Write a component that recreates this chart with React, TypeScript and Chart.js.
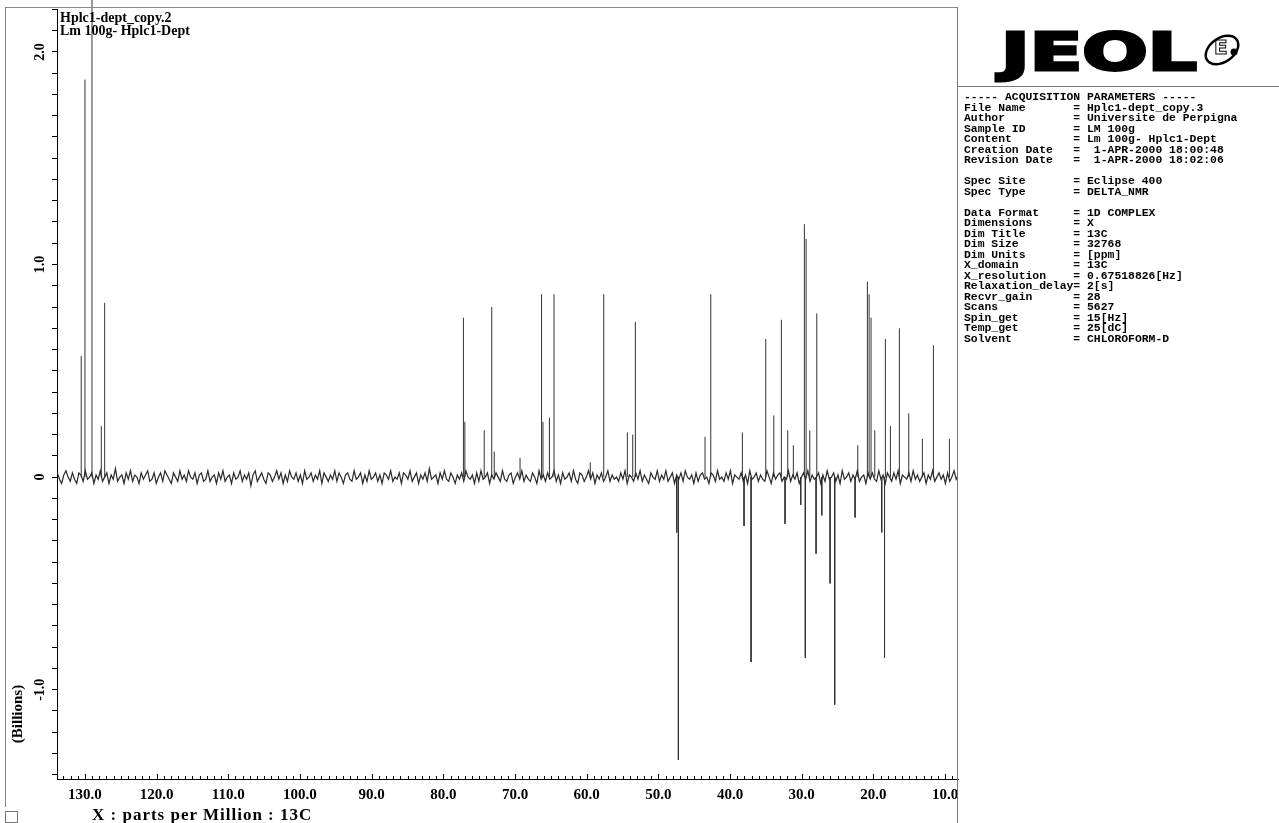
import React, { useEffect, useRef } from 'react';
import { Chart, registerables } from 'chart.js';

Chart.register(...registerables);

// ---- axis ranges & tick labels ----
const X_MIN = 8.2;
const X_MAX = 133.9;
const Y_MIN = -1.42;
const Y_MAX = 2.2;
const X_STEP = 1;
const Y_STEP = 0.1;
const Y_LABEL_VALUES = [2, 1, 0, -1];
const Y_LABEL_TEXTS = ['2.0', '1.0', '0', '-1.0'];

// ---- positive (CH / CH3) peaks: ppm and height (billions) ----
const POS_PEAK_PPM = [
  130.52, 130.0, 129.02, 127.72, 127.25,
  77.2, 77.0, 74.3, 73.25, 72.9, 69.3, 66.3, 66.1, 65.2, 64.56, 59.5, 57.62,
  54.33, 53.58, 53.21, 43.49, 42.69, 38.28, 35.02, 33.9, 32.84, 31.95, 31.17,
  29.63, 29.39, 28.88, 27.9, 22.18, 20.84, 20.6, 20.33, 19.81, 18.33, 17.63,
  16.38, 15.07, 13.17, 11.63, 9.4,
];
const POS_PEAK_HEIGHT = [
  0.57, 1.87, 2.4, 0.24, 0.82,
  0.75, 0.26, 0.22, 0.8, 0.12, 0.09, 0.86, 0.26, 0.28, 0.86, 0.07, 0.86,
  0.21, 0.2, 0.73, 0.19, 0.86, 0.21, 0.65, 0.29, 0.74, 0.22, 0.15,
  1.19, 1.12, 0.22, 0.77, 0.15, 0.92, 0.86, 0.75, 0.22, 0.65, 0.24,
  0.7, 0.3, 0.18, 0.62, 0.18,
];

// ---- negative (CH2) peaks ----
const NEG_PEAK_PPM = [
  47.44, 47.21, 38.05, 37.07, 32.33, 30.14, 29.5, 28.0, 27.2, 26.05, 25.4,
  22.56, 18.84, 18.45,
];
const NEG_PEAK_HEIGHT = [
  -0.26, -1.33, -0.23, -0.87, -0.22, -0.13, -0.85, -0.36, -0.18, -0.5, -1.07,
  -0.19, -0.26, -0.85,
];

// ---- baseline noise, hundredths of a billion, sampled every 0.3 ppm from 133.85 ----
const NOISE_START_PPM = 133.85;
const NOISE_STEP_PPM = 0.3;
const NOISE = [
  2, -1, -3, 1, 3, 0, -2, 2, -1, -3, 2, 1, -2, 3, -1, 0, 2, -3, 1, -1,
  3, -2, 0, 2, -3, 1, -1, 4, -2, 0, 1, -3, 2, -1, 3, -2, 1, 0, -3, 2,
  -1, 1, 3, -2, -1, 2, -3, 0, 2, -2, 3, 1, -1, -3, 2, 0, -2, 3, -1, 1,
  -2, 3, 0, -1, 2, -3, 1, 2, -2, -1, 3, -2, 0, 1, -3, 2, -1, 3, -2, 0,
  1, -3, 2, -1, 0, 3, -2, 1, -1, 2, -4, 1, 3, -2, 0, 2, -1, -3, 2, 1,
  -2, 0, 3, -1, 2, -3, 1, -2, 3, 0, -1, 2, -2, 1, -3, 3, -1, 0, 2, -2,
  1, -1, 3, -3, 2, 0, -2, 1, -1, 3, -2, 2, 0, -3, 1, 2, -1, -2, 3, -1,
  0, 2, -3, 1, -2, 3, -1, 0, 2, -2, 1, -3, 2, 1, -1, 3, -2, 0, -1, 2,
  -3, 2, 1, -1, 3, -2, 0, 2, -3, 1, -1, 2, -2, 4, -1, 0, 1, -3, 2, -1,
  3, -1, -2, 2, 0, -3, 1, -1, 2, -2, 3, 0, -1, 1, -3, 2, -2, 3, -1, 0,
  2, -3, 1, -1, 2, 0, -2, 3, -1, -2, 1, 2, -3, 0, 2, -1, 3, -2, 1, -1,
  -2, 2, 0, -3, 3, -1, 1, -2, 2, -1, 0, 3, -2, 1, -3, 2, -1, 0, 2, -2,
  3, -1, -3, 2, 1, -2, 0, 3, -1, 2, -3, 1, -1, 2, -2, 0, 3, -2, 1, -1,
  0, -2, 2, -1, 3, -3, 1, 0, -2, 2, -1, 3, -2, 1, -1, -3, 2, 0, -1, 3,
  -2, 1, -1, 3, -2, 0, 2, -3, 1, -1, 2, -2, 3, 0, -1, 1, -3, 2, -2, 1,
  2, -1, 0, -3, 2, 1, -2, 3, -1, 0, -2, 2, -1, 3, -3, 1, 0, -1, 2, -2,
  1, -3, 3, -1, 0, 2, -2, 1, -1, -2, 3, 0, -3, 2, -1, 1, 2, -2, 0, -1,
  3, -2, 1, -1, 2, -3, 0, 2, -1, 3, -2, 1, -1, 0, 2, -3, 1, -2, 3, -1,
  0, 2, -2, 1, -3, 3, -1, 0, 2, -2, 1, -1, 3, -2, 0, 1, -3, 2, -1, 2,
  -1, -2, 3, -1, 1, -3, 2, 0, -2, 2, -1, 3, -3, 1, 0, -1, 2, -2, 3, -1,
  1, -2, 0, 2, -3, 1, -1, 3, -2, 0, 2, -1, 1, -3, 2, -2, 0, 3, -1, 1,
];

const TITLE_LINES = ['Hplc1-dept_copy.2', 'Lm 100g- Hplc1-Dept'];
const X_TITLE = 'X : parts per Million : 13C';
const Y_TITLE = '(Billions)';

const PARAM_LINES = [
  '----- ACQUISITION PARAMETERS -----',
  'File Name       = Hplc1-dept_copy.3',
  'Author          = Universite de Perpigna',
  'Sample ID       = LM 100g',
  'Content         = Lm 100g- Hplc1-Dept',
  'Creation Date   =  1-APR-2000 18:00:48',
  'Revision Date   =  1-APR-2000 18:02:06',
  '',
  'Spec Site       = Eclipse 400',
  'Spec Type       = DELTA_NMR',
  '',
  'Data Format     = 1D COMPLEX',
  'Dimensions      = X',
  'Dim Title       = 13C',
  'Dim Size        = 32768',
  'Dim Units       = [ppm]',
  'X_domain        = 13C',
  'X_resolution    = 0.67518826[Hz]',
  'Relaxation_delay= 2[s]',
  'Recvr_gain      = 28',
  'Scans           = 5627',
  'Spin_get        = 15[Hz]',
  'Temp_get        = 25[dC]',
  'Solvent         = CHLOROFORM-D',
];

const SERIF = '"Liberation Serif", "DejaVu Serif", serif';

const upTicksPlugin = {
  id: 'upTicks',
  afterDraw(chart: any) {
    const s = chart.scales.x;
    const ctx = chart.ctx;
    ctx.save();
    ctx.strokeStyle = '#000';
    ctx.lineWidth = 1;
    ctx.beginPath();
    s.ticks.forEach((t: any) => {
      const px = Math.round(s.getPixelForValue(t.value)) + 0.5;
      const major = Math.abs(Math.round(t.value) % 10) === 0;
      ctx.moveTo(px, s.top);
      ctx.lineTo(px, s.top - (major ? 5 : 3));
    });
    ctx.stroke();
    ctx.restore();
  },
};

function buildPeaks() {
  const pts: { x: number; y: number | null }[] = [];
  const add = (ppm: number, h: number) => {
    pts.push({ x: ppm, y: 0 });
    pts.push({ x: ppm, y: h });
    pts.push({ x: ppm, y: null });
  };
  POS_PEAK_PPM.forEach((p, i) => add(p, POS_PEAK_HEIGHT[i]));
  NEG_PEAK_PPM.forEach((p, i) => add(p, NEG_PEAK_HEIGHT[i]));
  return pts;
}

function buildNoise() {
  return NOISE.map((v, i) => ({ x: NOISE_START_PPM - i * NOISE_STEP_PPM, y: v / 100 }));
}

export default function App() {
  const ref = useRef<HTMLCanvasElement | null>(null);

  useEffect(() => {
    if (!ref.current) return;
    const chart = new Chart(ref.current, {
      type: 'line',
      data: {
        datasets: [
          {
            data: buildNoise(),
            borderColor: '#2a2a2a',
            borderWidth: 1.2,
            pointRadius: 0,
            tension: 0,
          },
          {
            data: buildPeaks() as any,
            borderColor: '#333',
            borderWidth: 1,
            pointRadius: 0,
            spanGaps: false,
            clip: false as any,
          },
        ],
      },
      options: {
        animation: false,
        responsive: false,
        events: [],
        layout: { padding: { left: 0, top: 7, right: 321, bottom: 0 } },
        plugins: { legend: { display: false }, tooltip: { enabled: false } },
        scales: {
          x: {
            type: 'linear',
            reverse: true,
            min: X_MIN,
            max: X_MAX,
            afterFit: (s: any) => {
              s.height = 44;
            },
            grid: { display: false, drawTicks: false },
            border: { display: true, color: '#000', width: 1 },
            ticks: {
              stepSize: X_STEP,
              autoSkip: false,
              includeBounds: false,
              maxRotation: 0,
              minRotation: 0,
              padding: 7,
              color: '#000',
              font: { family: SERIF, size: 15, weight: 'bold' },
              callback: (v: any) => (Math.abs(Math.round(v) % 10) === 0 && Math.abs(v - Math.round(v)) < 1e-6 ? Number(v).toFixed(1) : ''),
            },
          },
          y: {
            type: 'linear',
            min: Y_MIN,
            max: Y_MAX,
            afterFit: (s: any) => {
              s.width = 57;
            },
            grid: { display: true, drawOnChartArea: false, drawTicks: true, tickLength: 5, color: '#000', lineWidth: 1 },
            border: { display: true, color: '#000', width: 1 },
            ticks: {
              stepSize: Y_STEP,
              autoSkip: false,
              includeBounds: false,
              minRotation: 90,
              maxRotation: 90,
              crossAlign: 'center',
              padding: 1,
              color: '#000',
              font: { family: SERIF, size: 14, weight: 'bold' },
              callback: (v: any) => {
                const idx = Y_LABEL_VALUES.findIndex((lv) => Math.abs(lv - v) < 1e-6);
                return idx >= 0 ? Y_LABEL_TEXTS[idx] : '';
              },
            },
          },
        },
      } as any,
      plugins: [upTicksPlugin],
    });
    return () => chart.destroy();
  }, []);

  const line = (l: number, t: number, w: number, h: number, c = '#8a8a8a'): React.CSSProperties => ({
    position: 'absolute', left: l, top: t, width: w, height: h, background: c,
  });

  return (
    <div style={{ position: 'absolute', left: 0, top: 0, width: 1279, height: 823, background: '#fff', overflow: 'hidden' }}>
      <canvas ref={ref} width={1279} height={823} style={{ position: 'absolute', left: 0, top: 0 }} />
      {/* frame lines */}
      <div style={line(5, 7, 952, 1)} />
      <div style={line(5, 7, 1, 800)} />
      <div style={line(957, 7, 1, 816, '#777')} />
      <div style={line(957, 86, 322, 1, '#777')} />
      <div style={{ position: 'absolute', left: 5, top: 811, width: 13, height: 12, border: '1px solid #777', boxSizing: 'border-box' }} />

      {/* title */}
      <div style={{ position: 'absolute', left: 60, top: 11, fontFamily: SERIF, fontWeight: 'bold', fontSize: 14, lineHeight: '13px', color: '#000', whiteSpace: 'pre' }}>
        {TITLE_LINES.map((t) => (
          <div key={t}>{t}</div>
        ))}
      </div>

      {/* axis titles */}
      <div style={{ position: 'absolute', left: 92, top: 806, fontFamily: SERIF, fontWeight: 'bold', fontSize: 17, lineHeight: '17px', letterSpacing: 1, color: '#000', whiteSpace: 'pre' }}>
        {X_TITLE}
      </div>
      <div style={{ position: 'absolute', left: 17, top: 714, transform: 'translate(-50%, -50%) rotate(-90deg)', fontFamily: SERIF, fontWeight: 'bold', fontSize: 15, lineHeight: '16px', color: '#000', whiteSpace: 'pre' }}>
        {Y_TITLE}
      </div>

      {/* JEOL logo */}
      <div style={{ position: 'absolute', left: 1001, top: 22, fontFamily: '"DejaVu Sans", sans-serif', fontWeight: 'bold', fontSize: 52, lineHeight: '60px', color: '#000', transform: 'scaleX(1.48)', transformOrigin: 'left top', WebkitTextStroke: '3px #000' } as any}>
        JEOL
      </div>
      <svg style={{ position: 'absolute', left: 1200, top: 24, width: 44, height: 48 }} viewBox="0 0 44 48">
        <ellipse cx="22" cy="26" rx="18" ry="12" transform="rotate(-35 22 26)" fill="none" stroke="#000" strokeWidth="2.5" />
        <circle cx="34" cy="28" r="3.5" fill="#000" />
        <text x="14" y="30" fontFamily="DejaVu Sans" fontSize="20" fontWeight="bold" fill="none" stroke="#000" strokeWidth="1">E</text>
      </svg>

      {/* acquisition parameters */}
      <div style={{ position: 'absolute', left: 964, top: 92, fontFamily: '"Liberation Mono", "DejaVu Sans Mono", monospace', fontWeight: 'bold', fontSize: 11.4, lineHeight: '10.5px', color: '#000', whiteSpace: 'pre' }}>
        {PARAM_LINES.map((t, i) => (
          <div key={i} style={{ height: 10.5 }}>{t}</div>
        ))}
      </div>
    </div>
  );
}
